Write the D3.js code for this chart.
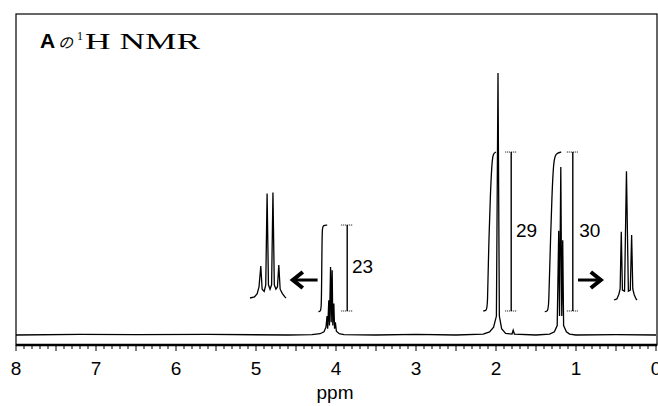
<!DOCTYPE html>
<html>
<head>
<meta charset="utf-8">
<script src="https://cdn.jsdelivr.net/npm/d3@7"></script>
<style>
  body { margin: 0; background: #fff; }
  svg { display: block; }
  text { font-family: "Liberation Sans", Arial, sans-serif; fill: #000; }
</style>
</head>
<body>
<div id="chart"></div>
<script>
// spectrum: [ppm, intensity]
const spectrum = [
  [8, 0], [7.2, 0.2], [6.5, 0.1], [5.6, 0.2], [4.6, 0], [4.3, 0.1],
  [4.2, 0.4], [4.15, 1], [4.125, 2.5], [4.112, 6], [4.104, 2], [4.09, 11], [4.082, 3],
  [4.068, 21.5], [4.06, 4], [4.048, 20.5], [4.04, 3], [4.027, 10], [4.018, 2],
  [4.008, 4], [3.995, 1.2], [3.96, 0.4], [3.9, 0.1], [3.5, 0], [3.0, 0.2], [2.5, 0],
  [2.16, 0.3], [2.08, 1], [2.03, 2.5], [1.995, 6], [1.975, 82.9], [1.958, 6], [1.93, 2],
  [1.88, 0.5], [1.8, 0.3], [1.785, 1.5], [1.77, 0.3], [1.5, 0], [1.33, 0.3], [1.27, 1],
  [1.235, 3], [1.216, 33], [1.206, 6], [1.19, 53.2], [1.178, 6], [1.166, 30], [1.155, 3],
  [1.12, 1], [1.08, 0.3], [1.0, 0], [0.5, 0.1], [0, 0]
];

// integral curves [ppm, level]
const integralQ = [[4.22, 7.4], [4.195, 7.5], [4.184, 8.5], [4.18, 15], [4.175, 30], [4.17, 34], [4.16, 34.7], [4.11, 34.8]];
const integralS = [[2.16, 7.6], [2.12, 7.7], [2.105, 9], [2.095, 25], [2.07, 45], [2.05, 55], [2.035, 57.5], [2.0, 57.9]];
const integralT = [[1.39, 7.4], [1.355, 7.5], [1.34, 9], [1.325, 25], [1.3, 45], [1.28, 55], [1.255, 57.5], [1.185, 57.9]];

// integral brackets: ppm, bottom, top, value
const bracketPpm = [3.86, 1.81, 1.04];
const bracketBottom = [7.6, 7.6, 7.6];
const bracketTop = [34.8, 57.9, 57.9];
const integralValues = ["23", "29", "30"];
const labelPpm = [3.8, 1.75, 0.96];
const labelLevel = [21.8, 33.2, 33.2];

// expanded multiplets [ppm, intensity]
const insetQuartet = [
  [4.16, 0], [4.14, 1], [4.128, 4], [4.12, 10], [4.112, 29], [4.106, 8], [4.097, 6],
  [4.09, 12], [4.084, 95], [4.078, 12], [4.071, 8], [4.064, 12], [4.058, 96], [4.052, 12],
  [4.045, 8], [4.038, 10], [4.032, 30], [4.026, 8], [4.016, 4], [4.005, 1], [4.0, 0]
];
const insetTriplet = [
  [1.26, 0], [1.245, 1], [1.235, 5], [1.228, 10], [1.222, 62], [1.216, 9], [1.205, 8],
  [1.195, 117], [1.185, 8], [1.175, 9], [1.168, 59], [1.162, 10], [1.155, 5], [1.145, 1], [1.14, 0]
];

// arrows: [fromPpm, toPpm, level]
const arrows = [[4.23, 4.54, 17.4], [0.975, 0.69, 17.4]];

const tickLabels = [8, 7, 6, 5, 4, 3, 2, 1, 0];

const width = 658, height = 406;
const svg = d3.select("#chart").append("svg")
  .attr("width", width)
  .attr("height", height);

const x = d3.scaleLinear().domain([8, 0]).range([16, 656]);
const y = d3.scaleLinear().domain([0, 100]).range([335, 19]);
const axisY = 345;

// frame
svg.append("rect")
  .attr("x", 16).attr("y", 14)
  .attr("width", 641).attr("height", axisY - 14)
  .attr("fill", "none").attr("stroke", "#000").attr("stroke-width", 1.2);

// axis
svg.append("line")
  .attr("x1", 16).attr("x2", 657).attr("y1", axisY).attr("y2", axisY)
  .attr("stroke", "#000").attr("stroke-width", 2.5);

const minor = d3.range(0, 81).map(i => i / 10);
svg.selectAll("line.minor")
  .data(minor)
  .enter()
  .append("line")
  .attr("class", "minor")
  .attr("x1", d => x(d)).attr("x2", d => x(d))
  .attr("y1", axisY)
  .attr("y2", (d, i) => axisY + (i % 5 === 0 ? 6 : 4))
  .attr("stroke", "#000").attr("stroke-width", 1);

// the 0 at the right edge is cut off in the original too
svg.selectAll("text.tick")
  .data(tickLabels)
  .enter()
  .append("text")
  .attr("class", "tick")
  .attr("x", d => x(d))
  .attr("y", 375)
  .attr("text-anchor", "middle")
  .attr("font-size", "19px")
  .text(d => d);

svg.append("text")
  .attr("x", 335).attr("y", 399)
  .attr("text-anchor", "middle")
  .attr("font-size", "19px")
  .text("ppm");

// spectrum
const line = d3.line().x(d => x(d[0])).y(d => y(d[1]));
svg.append("path")
  .datum(spectrum)
  .attr("d", line)
  .attr("fill", "none").attr("stroke", "#000").attr("stroke-width", 1.3);

// integrals
const intLine = d3.line().x(d => x(d[0])).y(d => y(d[1])).curve(d3.curveBasis);
[integralQ, integralS, integralT].forEach(curve => {
  svg.append("path")
    .datum(curve)
    .attr("d", intLine)
    .attr("fill", "none").attr("stroke", "#000").attr("stroke-width", 1.3);
});

bracketPpm.forEach((p, i) => {
  const bx = x(p);
  svg.append("line")
    .attr("x1", bx).attr("x2", bx)
    .attr("y1", y(bracketTop[i])).attr("y2", y(bracketBottom[i]))
    .attr("stroke", "#000").attr("stroke-width", 1.4);
  [bracketTop[i], bracketBottom[i]].forEach(v => {
    svg.append("line")
      .attr("x1", bx - 6).attr("x2", bx + 6)
      .attr("y1", y(v)).attr("y2", y(v))
      .attr("stroke", "#000").attr("stroke-width", 1)
      .attr("stroke-dasharray", "1,1");
  });
  svg.append("text")
    .attr("x", x(labelPpm[i]))
    .attr("y", y(labelLevel[i]) + 7)
    .attr("font-size", "19px")
    .text(integralValues[i]);
});

// insets
const xq = d3.scaleLinear().domain([4.16, 4.0]).range([250, 286]);
const yq = d3.scaleLinear().domain([0, 100]).range([298, 188]);
svg.append("path")
  .datum(insetQuartet)
  .attr("d", d3.line().x(d => xq(d[0])).y(d => yq(d[1])))
  .attr("fill", "none").attr("stroke", "#000").attr("stroke-width", 1.3);

const xt = d3.scaleLinear().domain([1.26, 1.14]).range([614, 637]);
const yt = d3.scaleLinear().domain([0, 100]).range([300, 190]);
svg.append("path")
  .datum(insetTriplet)
  .attr("d", d3.line().x(d => xt(d[0])).y(d => yt(d[1])))
  .attr("fill", "none").attr("stroke", "#000").attr("stroke-width", 1.3);

// arrows
arrows.forEach(([from, to, lvl]) => {
  const x1 = x(from), x2 = x(to), ay = y(lvl);
  const dir = x2 > x1 ? 1 : -1;
  svg.append("line")
    .attr("x1", x1).attr("x2", x2 - dir * 3).attr("y1", ay).attr("y2", ay)
    .attr("stroke", "#000").attr("stroke-width", 3);
  svg.append("path")
    .attr("d", `M${x2 - dir * 10},${ay - 8} L${x2},${ay} L${x2 - dir * 10},${ay + 8}`)
    .attr("fill", "none").attr("stroke", "#000").attr("stroke-width", 4)
    .attr("stroke-linejoin", "miter");
});

// title
const title = svg.append("g");
title.append("text")
  .attr("x", 40).attr("y", 48)
  .attr("font-size", "21px").attr("font-weight", "bold")
  .text("A");
title.append("text")
  .attr("x", 58).attr("y", 48)
  .attr("font-size", "15px")
  .style("font-family", "'Noto Sans CJK JP', sans-serif")
  .style("font-style", "italic")
  .text("の");
title.append("text")
  .attr("x", 77).attr("y", 40)
  .attr("font-size", "12px")
  .style("font-family", "'Liberation Serif', serif")
  .text("1");
title.append("text")
  .attr("x", 85).attr("y", 49)
  .attr("font-size", "23px")
  .attr("textLength", 115)
  .attr("lengthAdjust", "spacingAndGlyphs")
  .style("font-family", "'Liberation Serif', serif")
  .text("H NMR");
</script>
</body>
</html>
